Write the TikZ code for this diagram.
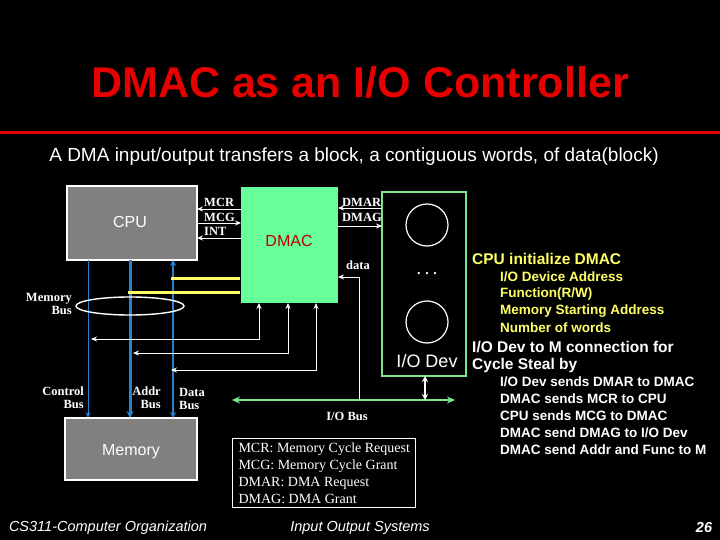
\documentclass[tikz,border=0pt]{standalone}
\usepackage{fontspec}
\setmainfont{Liberation Serif}
\setsansfont{Liberation Sans}
\usetikzlibrary{arrows.meta}
\definecolor{dgreen}{RGB}{102,255,153}
\definecolor{lgreen}{RGB}{120,230,140}
\definecolor{bblue}{RGB}{40,130,210}
\definecolor{tred}{RGB}{230,0,0}
\definecolor{yel}{RGB}{255,255,102}
\definecolor{gbox}{RGB}{128,128,128}
\tikzset{
 graybox/.style={draw=white,line width=1.2pt,fill=gbox},
 sig/.style={white,line width=0.8pt,-{Stealth[length=6pt,width=5pt]}},
 dsig/.style={white,line width=0.8pt,{Stealth[length=6pt,width=5pt]}-{Stealth[length=6pt,width=5pt]}},
 lab/.style={font=\fontsize{12.5}{13}\selectfont\bfseries,text=white,inner sep=0pt},
 bus/.style={bblue,-{Stealth[length=6pt,width=5pt]}},
 rtxt/.style={font=\sffamily\bfseries\fontsize{13.5}{15}\selectfont,anchor=west,inner sep=0pt},
 rhead/.style={font=\sffamily\bfseries\fontsize{15.5}{16}\selectfont,anchor=west,inner sep=0pt},
}
\begin{document}
\begin{tikzpicture}[x=1pt,y=-1pt]
\fill[black] (0,0) rectangle (720,540);
\useasboundingbox (0,0) rectangle (720,540);
% title
\node[font=\sffamily\bfseries\fontsize{43}{46}\selectfont,text=tred] (title) at (360,82) {DMAC as an I/O Controller};
\fill[tred] (0,131) rectangle (720,134);
\node[font=\sffamily\fontsize{19}{21}\selectfont,text=white] (sub) at (354,157) {A DMA input/output transfers a block, a contiguous words, of data(block)};
% boxes
\node[graybox,minimum width=130pt,minimum height=74pt] (cpu) at (132,223) {};
\node[font=\sffamily\fontsize{16}{17}\selectfont,text=white] at (130,222) {CPU};
\node[graybox,minimum width=132pt,minimum height=62pt] (mem) at (131,449) {};
\node[font=\sffamily\fontsize{16}{17}\selectfont,text=white] at (131,452) {Memory};
\node[fill=dgreen,minimum width=97pt,minimum height=116pt,inner sep=0pt] (dmac) at (289.5,245) {};
\node[font=\sffamily\fontsize{16}{17}\selectfont,text=tred!80!black] at (289,241) {DMAC};
\node[draw=lgreen,line width=1.2pt,minimum width=84pt,minimum height=184pt,inner sep=0pt] (iod) at (424,284) {};
\node[draw=white,line width=1.2pt,circle,minimum size=42pt,inner sep=0pt] (c1) at (427,225) {};
\node[draw=white,line width=1.2pt,circle,minimum size=42pt,inner sep=0pt] (c2) at (427,322) {};
\node[font=\bfseries\fontsize{14}{14}\selectfont,text=white] (dots) at (427,274) {.\,\,.\,\,.};
\node[font=\sffamily\fontsize{18}{19}\selectfont,text=white] (iodl) at (427,361) {I/O Dev};
% signal lines CPU-DMAC
\draw[sig] (241,209) -- (197,209);
\draw[sig] (197,223) -- (241,223);
\draw[sig] (241,238) -- (197,238);
\node[lab,anchor=west] at (204,202) {MCR};
\node[lab,anchor=west] at (204,217) {MCG};
\node[lab,anchor=west] at (204,231) {INT};
\draw[sig] (382,208) -- (338,208);
\draw[sig] (338,226) -- (382,226);
\node[lab,anchor=west] at (342,202) {DMAR};
\node[lab,anchor=west] at (342,217) {DMAG};
% buses
\draw[bus,line width=1pt] (88,260) -- (88,418);
\draw[bus,line width=3pt,-{Stealth[length=7pt,width=7pt]}] (130,260) -- (130,418);
\draw[bus,line width=1.6pt,{Stealth[length=6pt,width=6pt]}-{Stealth[length=6pt,width=6pt]}] (173,260) -- (173,418);
\draw[yel,line width=3pt] (171,278) -- (240,278);
\draw[yel,line width=3pt] (128,292) -- (240,292);
\draw[white,line width=1.4pt] (130,306) ellipse [x radius=54pt,y radius=9pt];
\node[lab,align=right,anchor=east] at (72,304) {Memory\\Bus};
\node[lab,align=right,anchor=east] at (84,398) {Control\\Bus};
\node[lab,align=right,anchor=east] at (161,398) {Addr\\Bus};
\node[lab,align=left,anchor=west] at (179,399) {Data\\Bus};
% DMAC to buses
\draw[dsig] (91,339) -| (259,303);
\draw[dsig] (133,353) -| (288,303);
\draw[dsig] (171,370) -| (316,303);
% I/O bus
\draw[lgreen,line width=2pt,{Stealth[length=8pt,width=7pt]}-{Stealth[length=8pt,width=7pt]}] (232,400) -- (455,400);
\node[lab] at (347,416) {I/O Bus};
\draw[sig] (359,400) |- (338,277);
\node[lab] at (358,265) {data};
\draw[white,line width=1.6pt,{Stealth[length=6pt,width=6pt]}-{Stealth[length=6pt,width=6pt]}] (425,376) -- (425,400);
% legend
\node[draw=white,line width=1pt,align=left,anchor=north west,inner xsep=6pt,inner ysep=4pt,font=\fontsize{14}{17}\selectfont,text=white] (leg) at (232,438) {MCR: Memory Cycle Request\\MCG: Memory Cycle Grant\\DMAR: DMA Request\\DMAG: DMA Grant};
% right text
\node[rhead,text=yel] at (472,259) {CPU initialize DMAC};
\node[rtxt,text=yel] at (500,277) {I/O Device Address};
\node[rtxt,text=yel] at (500,294) {Function(R/W)};
\node[rtxt,text=yel] at (500,311) {Memory Starting Address};
\node[rtxt,text=yel] at (500,328) {Number of words};
\node[rhead,text=white] at (472,347) {I/O Dev to M connection for};
\node[rhead,text=white] at (472,365) {Cycle Steal by};
\node[rtxt,text=white] at (500,382) {I/O Dev sends DMAR to DMAC};
\node[rtxt,text=white] at (500,399) {DMAC sends MCR to CPU};
\node[rtxt,text=white] at (500,416) {CPU sends MCG to DMAC};
\node[rtxt,text=white] at (500,433) {DMAC send DMAG to I/O Dev};
\node[rtxt,text=white] at (500,450) {DMAC send Addr and Func to M};
% footer
\node[font=\sffamily\itshape\fontsize{14.5}{15}\selectfont,text=white] (f1) at (108,528) {CS311-Computer Organization};
\node[font=\sffamily\itshape\fontsize{14.5}{15}\selectfont,text=white] (f2) at (360,528) {Input Output Systems};
\node[font=\sffamily\bfseries\itshape\fontsize{14.5}{15}\selectfont,text=white] (f3) at (704,528) {26};
\end{tikzpicture}
\end{document}
